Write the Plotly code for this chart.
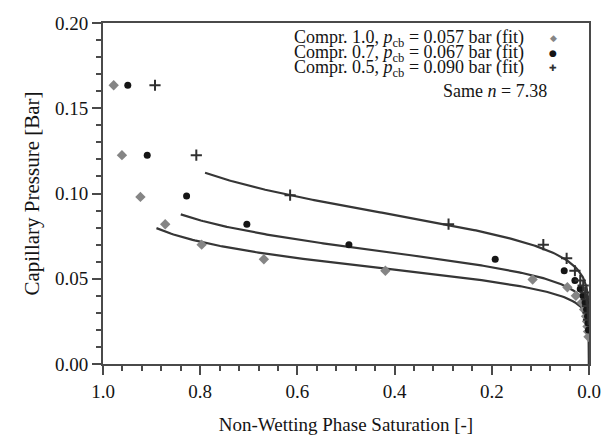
import numpy as np
import plotly.graph_objects as go

# Measured capillary pressure vs. non-wetting phase saturation
snw_c10 = [0.978, 0.961, 0.923, 0.872, 0.797, 0.669, 0.419, 0.116, 0.0445, 0.027,
           0.015, 0.010, 0.006, 0.004, 0.003, 0.002, 0.001]
pc_c10 = [0.1635, 0.1225, 0.098, 0.082, 0.070, 0.0614, 0.0547, 0.0496, 0.045, 0.040,
          0.036, 0.032, 0.028, 0.025, 0.022, 0.019, 0.016]

snw_c07 = [0.949, 0.909, 0.828, 0.704, 0.494, 0.193, 0.051, 0.029,
           0.018, 0.012, 0.008, 0.005, 0.003, 0.002, 0.001]
pc_c07 = [0.1635, 0.1225, 0.0985, 0.082, 0.070, 0.0615, 0.0547, 0.049,
          0.044, 0.040, 0.036, 0.032, 0.028, 0.024, 0.020]

snw_c05 = [0.893, 0.808, 0.615, 0.289, 0.094, 0.046, 0.029, 0.018,
           0.012, 0.008, 0.005, 0.003, 0.002, 0.001]
pc_c05 = [0.1635, 0.1225, 0.099, 0.082, 0.070, 0.062, 0.0547, 0.049,
          0.046, 0.042, 0.038, 0.034, 0.030, 0.026]

# Fitted van Genuchten parameters (shared exponent n)
n_vg = 7.38
pcb_c10, pcb_c07, pcb_c05 = 0.057, 0.067, 0.090
fit_start = {"c10": 0.89, "c07": 0.84, "c05": 0.79}

x_ticks = [1.0, 0.8, 0.6, 0.4, 0.2, 0.0]
y_ticks = [0.00, 0.05, 0.10, 0.15, 0.20]


def vg_curve(pcb, s_start):
    m = 1.0 - 1.0 / n_vg
    s = np.concatenate([np.linspace(s_start, 0.02, 200),
                        np.logspace(np.log10(0.02), -14, 200)])
    sw = 1.0 - s
    pc = pcb * (sw ** (-1.0 / m) - 1.0) ** (1.0 / n_vg)
    s = np.append(s, 0.0)
    pc = np.append(pc, 0.0)
    return s, pc


SERIF = "Liberation Serif, Times New Roman, serif"
INK = "#141414"
fig = go.Figure()

for pcb, key in [(pcb_c10, "c10"), (pcb_c07, "c07"), (pcb_c05, "c05")]:
    xs, ys = vg_curve(pcb, fit_start[key])
    fig.add_trace(go.Scatter(x=xs, y=ys, mode="lines",
                             line=dict(color="#363636", width=2.2),
                             showlegend=False, hoverinfo="skip"))

fig.add_trace(go.Scatter(x=snw_c10, y=pc_c10, mode="markers", showlegend=False,
                         marker=dict(symbol="diamond", size=8, color="#858585")))
fig.add_trace(go.Scatter(x=snw_c07, y=pc_c07, mode="markers", showlegend=False,
                         marker=dict(symbol="circle", size=7, color="#151515")))
fig.add_trace(go.Scatter(x=snw_c05, y=pc_c05, mode="markers", showlegend=False,
                         marker=dict(symbol="cross-thin", size=8,
                                     line=dict(color="#303030", width=2))))

axis_common = dict(
    showline=True, linecolor="#4a4a4a", linewidth=2, mirror=True,
    showgrid=False, zeroline=False, ticks="outside", ticklen=9, tickwidth=1.5,
    tickcolor="#4a4a4a", automargin=False,
    tickfont=dict(family=SERIF, size=19, color=INK),
)

fig.update_xaxes(range=[1.0, 0.0], tickvals=x_ticks, tickformat=".1f",
                 minor=dict(dtick=0.04, ticks="outside", ticklen=5, tickwidth=1.5,
                            tickcolor="#4a4a4a", tick0=0),
                 title=dict(text="Non-Wetting Phase Saturation [-]",
                            font=dict(family=SERIF, size=19, color=INK),
                            standoff=17),
                 **axis_common)
fig.update_yaxes(range=[0.0, 0.2], tickvals=y_ticks, tickformat=".2f",
                 minor=dict(dtick=0.01, ticks="outside", ticklen=5, tickwidth=1.5,
                            tickcolor="#4a4a4a", tick0=0),
                 title=dict(text="Capillary Pressure [Bar]",
                            font=dict(family=SERIF, size=21, color=INK),
                            standoff=10),
                 **axis_common)

legend_lines = [
    ("Compr. 1.0, <i>p</i><sub>cb</sub> = 0.057 bar (fit)", "◆", "#858585", 0.956),
    ("Compr. 0.7, <i>p</i><sub>cb</sub> = 0.067 bar (fit)", "●", "#151515", 0.912),
    ("Compr. 0.5, <i>p</i><sub>cb</sub> = 0.090 bar (fit)", "✚", "#303030", 0.868),
]
for text, glyph, col, yy in legend_lines:
    fig.add_annotation(xref="paper", yref="paper", x=0.870, y=yy, text=text,
                       showarrow=False, xanchor="right", yanchor="middle",
                       font=dict(family=SERIF, size=18, color=INK))
    fig.add_annotation(xref="paper", yref="paper", x=0.926, y=yy, text=glyph,
                       showarrow=False, xanchor="center", yanchor="middle",
                       font=dict(family="DejaVu Sans", size=9, color=col))
fig.add_annotation(xref="paper", yref="paper", x=0.918, y=0.800,
                   text="Same <i>n</i> = 7.38", showarrow=False,
                   xanchor="right", yanchor="middle",
                   font=dict(family=SERIF, size=18, color=INK))

fig.update_layout(
    width=606, height=439,
    margin=dict(l=103, r=17, t=23, b=75),
    paper_bgcolor="white", plot_bgcolor="white",
)

fig.write_html("out.html")
